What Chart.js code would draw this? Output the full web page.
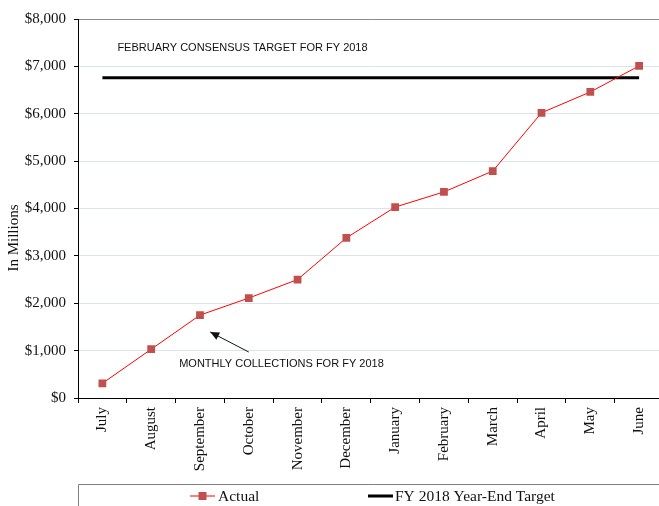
<!DOCTYPE html>
<html>
<head>
<meta charset="utf-8">
<script src="https://cdn.jsdelivr.net/npm/chart.js@4.4.0/dist/chart.umd.min.js"></script>
<style>
  html, body { margin: 0; padding: 0; background: #fff; width: 659px; height: 506px; overflow: hidden; }
  #wrap { position: absolute; left: 0; top: 0; width: 669px; height: 506px; }
</style>
</head>
<body>
<div id="wrap"><canvas id="collections-chart"></canvas></div>
<script>
const months = ["July", "August", "September", "October", "November", "December",
  "January", "February", "March", "April", "May", "June"];
const actualValues = [310, 1030, 1750, 2110, 2500, 3380, 4030, 4350, 4790, 6020, 6460, 7010];
const targetValues = [6760, 6760, 6760, 6760, 6760, 6760, 6760, 6760, 6760, 6760, 6760, 6760];
const seriesNames = ["Actual", "FY 2018 Year-End Target"];
const consensusNote = "FEBRUARY CONSENSUS TARGET FOR FY 2018";
const monthlyNote = "MONTHLY COLLECTIONS FOR FY 2018";
const axisTitle = "In Millions";

const SERIF = "'Liberation Serif', 'Times New Roman', serif";
const SANS = "'Liberation Sans', Arial, sans-serif";

const annotations = {
  id: "annotations",
  afterDatasetsDraw(chart) {
    const { ctx } = chart;
    const x = chart.scales.x;
    const y = chart.scales.y;
    ctx.save();
    ctx.fillStyle = "#111";
    ctx.font = "11px " + SANS;
    ctx.textBaseline = "middle";
    ctx.textAlign = "left";
    ctx.fillText(consensusNote, x.getPixelForValue(0) + 15, y.getPixelForValue(7380));
    ctx.fillText(monthlyNote, x.getPixelForValue(1) + 28, y.getPixelForValue(720));

    // arrow pointing at September
    const tx = x.getPixelForValue(3), ty = y.getPixelForValue(970);
    const hx = x.getPixelForValue(2.21), hy = y.getPixelForValue(1393);
    ctx.strokeStyle = "#111";
    ctx.lineWidth = 1;
    ctx.beginPath();
    ctx.moveTo(tx, ty);
    ctx.lineTo(hx, hy);
    ctx.stroke();
    const ang = Math.atan2(hy - ty, hx - tx);
    const len = 9, wid = 4;
    ctx.beginPath();
    ctx.moveTo(hx, hy);
    ctx.lineTo(hx - len * Math.cos(ang) + wid * Math.sin(ang), hy - len * Math.sin(ang) - wid * Math.cos(ang));
    ctx.lineTo(hx - len * Math.cos(ang) - wid * Math.sin(ang), hy - len * Math.sin(ang) + wid * Math.cos(ang));
    ctx.closePath();
    ctx.fill();

    // y axis title
    ctx.save();
    ctx.translate(14, 238);
    ctx.rotate(-Math.PI / 2);
    ctx.textAlign = "center";
    ctx.font = "15px " + SERIF;
    ctx.fillText(axisTitle, 0, 0);
    ctx.restore();

    // legend box
    const top = 484;
    const left = chart.chartArea.left;
    ctx.strokeStyle = "#7f7f7f";
    ctx.lineWidth = 1;
    ctx.beginPath();
    ctx.moveTo(left + 0.5, chart.height);
    ctx.lineTo(left + 0.5, top + 0.5);
    ctx.lineTo(chart.width, top + 0.5);
    ctx.stroke();

    const ly = 496;
    ctx.font = "15.5px " + SERIF;
    ctx.textBaseline = "middle";
    // Actual
    ctx.strokeStyle = "#ff0000";
    ctx.beginPath();
    ctx.moveTo(190, ly);
    ctx.lineTo(215, ly);
    ctx.stroke();
    ctx.fillStyle = "#c0504d";
    ctx.fillRect(198.5, ly - 4, 8, 8);
    ctx.fillStyle = "#111";
    ctx.fillText(seriesNames[0], 218, ly + 1);
    // Target
    ctx.strokeStyle = "#000";
    ctx.lineWidth = 3;
    ctx.beginPath();
    ctx.moveTo(368, ly);
    ctx.lineTo(393, ly);
    ctx.stroke();
    ctx.fillText(seriesNames[1], 395, ly + 1);
    ctx.restore();
  },
};

new Chart(document.getElementById("collections-chart"), {
  type: "line",
  data: {
    labels: months,
    datasets: [
      {
        label: seriesNames[0],
        data: actualValues,
        borderColor: "#ff0000",
        borderWidth: 1,
        pointStyle: "rect",
        pointRadius: 5.5,
        pointBackgroundColor: "#c0504d",
        pointBorderColor: "#c0504d",
        pointBorderWidth: 0,
        tension: 0,
      },
      {
        label: seriesNames[1],
        data: targetValues,
        borderColor: "#000000",
        borderWidth: 3,
        pointRadius: 0,
        tension: 0,
      },
    ],
  },
  options: {
    responsive: true,
    maintainAspectRatio: false,
    animation: false,
    layout: { padding: { left: 0, right: 0, top: 19, bottom: 22 } },
    plugins: {
      legend: { display: false },
      tooltip: { enabled: false },
      title: { display: false },
    },
    scales: {
      x: {
        offset: true,
        afterFit: (s) => {
          s.height = 86;
          s.paddingLeft = 0;
          s.paddingRight = 0;
        },
        grid: {
          offset: true,
          drawOnChartArea: false,
          drawTicks: true,
          tickLength: 5,
          tickColor: "#000",
        },
        border: { color: "#000", width: 1 },
        ticks: {
          minRotation: 90,
          maxRotation: 90,
          padding: 4,
          autoSkip: false,
          color: "#111",
          font: { family: SERIF, size: 15 },
        },
      },
      y: {
        min: 0,
        max: 8000,
        afterFit: (s) => { s.width = 78; },
        grid: {
          color: (c) => (c.tick && c.tick.value === 8000 ? "#8c8c8c" : "#dbe4ee"),
          tickColor: "#000",
          tickLength: 4,
        },
        border: { color: "#000", width: 1 },
        ticks: {
          stepSize: 1000,
          padding: 8,
          color: "#111",
          font: { family: SERIF, size: 15 },
          callback: (v) => "$" + Number(v).toLocaleString("en-US"),
        },
      },
    },
  },
  plugins: [annotations],
});
</script>
</body>
</html>
